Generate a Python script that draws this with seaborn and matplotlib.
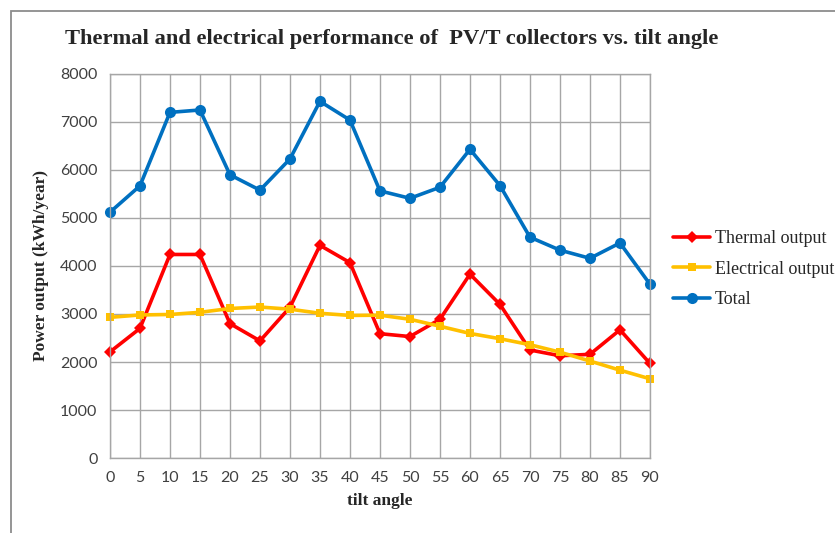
import numpy as np
import pandas as pd
import matplotlib
matplotlib.use("Agg")
import matplotlib.pyplot as plt
import seaborn as sns
from matplotlib.patches import Rectangle
from matplotlib.lines import Line2D

# values
tilt = [0, 5, 10, 15, 20, 25, 30, 35, 40, 45, 50, 55, 60, 65, 70, 75, 80, 85, 90]
thermal = [2210, 2700, 4240, 4240, 2800, 2440, 3140, 4430, 4070, 2590, 2530, 2890, 3830, 3200, 2250, 2130, 2160, 2670, 1970]
electrical = [2930, 2980, 2990, 3035, 3115, 3145, 3100, 3015, 2970, 2975, 2890, 2745, 2595, 2485, 2360, 2205, 2020, 1830, 1650]
total = [5120, 5670, 7200, 7250, 5900, 5580, 6230, 7430, 7040, 5565, 5410, 5640, 6430, 5675, 4600, 4330, 4160, 4480, 3620]

series_names = ["Thermal output", "Electrical output", "Total"]
colors = ["#FF0000", "#FFC000", "#0070C0"]
markers = ["D", "s", "o"]
marker_sizes = [6, 5.5, 8]

df = pd.DataFrame({"tilt": tilt * 3,
                   "value": thermal + electrical + total,
                   "series": [series_names[0]] * len(tilt) + [series_names[1]] * len(tilt) + [series_names[2]] * len(tilt)})

sns.set_style("white")
plt.rcParams["font.family"] = ["Liberation Serif", "DejaVu Serif"]

fig = plt.figure(figsize=(8.35, 5.33), dpi=100)
ax = fig.add_axes([0.1317, 0.1407, 0.6467, 0.7205])

# thin frame around the chart area
fig.patches.append(Rectangle((0.013, -0.01), 1.0, 0.99, transform=fig.transFigure,
                             fill=False, edgecolor="#8c8c8c", linewidth=1.3))

sns.lineplot(data=df, x="tilt", y="value", hue="series", style="series",
             palette=dict(zip(series_names, colors)),
             markers=dict(zip(series_names, markers)),
             dashes=False, linewidth=2.6, markersize=7, markeredgewidth=0,
             ax=ax, legend=False)
for line, ms in zip(ax.lines, marker_sizes):
    line.set_markersize(ms)
    line.set_clip_on(False)

ax.set_xlim(0, 90)
ax.set_ylim(0, 8000)
ax.set_xticks(tilt)
ax.set_yticks(range(0, 8001, 1000))
ax.grid(True, color="#a6a6a6", linewidth=1)
ax.set_axisbelow(True)
for s in ax.spines.values():
    s.set_color("#a6a6a6")
    s.set_linewidth(1)
ax.tick_params(axis="both", length=5, color="#a6a6a6", labelsize=11.5, labelcolor="#404040", pad=4)
for lab in ax.get_xticklabels() + ax.get_yticklabels():
    lab.set_family(["Lato", "DejaVu Sans"])

ax.set_xlabel("tilt angle", fontsize=12.5, fontweight="bold", labelpad=6)
ax.set_ylabel("Power output (kWh/year)", fontsize=12.5, fontweight="bold", labelpad=8)
fig.text(0.078, 0.927, "Thermal and electrical performance of  PV/T collectors vs. tilt angle",
         fontsize=16.2, fontweight="bold", ha="left", va="center")

handles = [Line2D([], [], color=c, marker=m, lw=2.6, ms=ms, markeredgewidth=0)
           for c, m, ms in zip(colors, markers, marker_sizes)]
fig.legend(handles, series_names, loc="center left", bbox_to_anchor=(0.786, 0.495),
           frameon=False, fontsize=13, handlelength=2.1, handletextpad=0.25, labelspacing=0.75)

fig.savefig("out.png", dpi=100)
